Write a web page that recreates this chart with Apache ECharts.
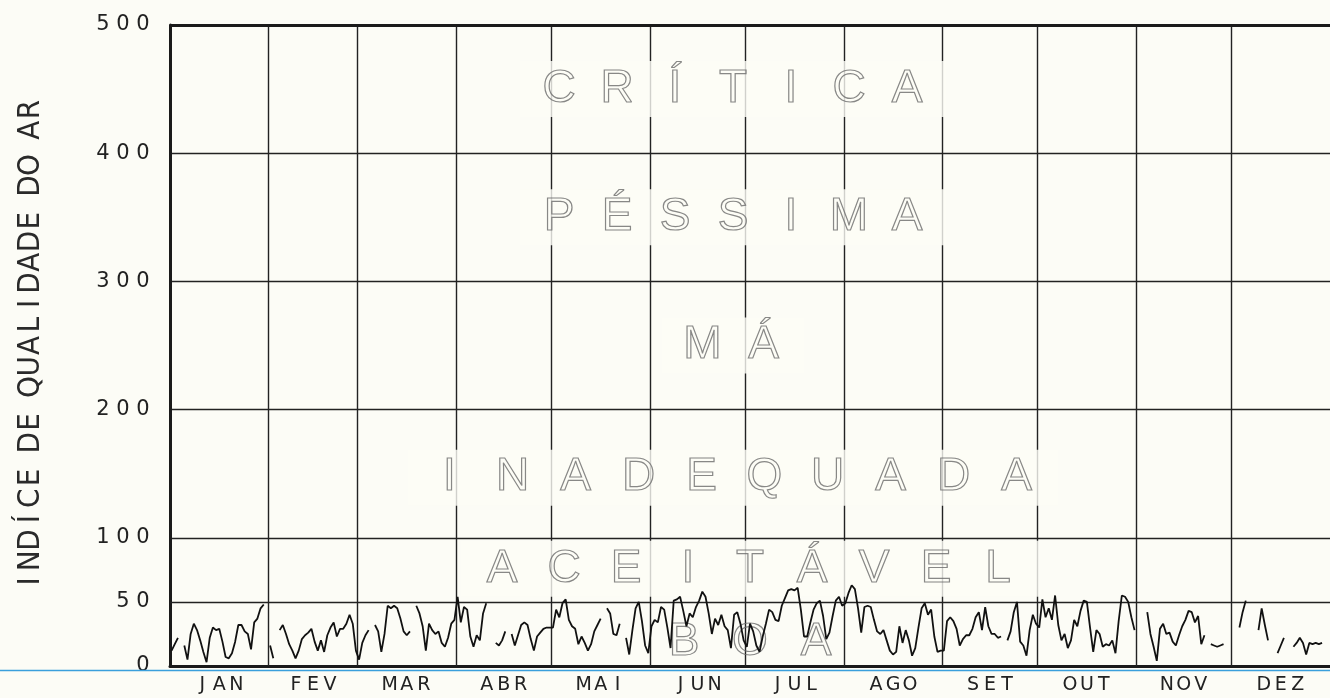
<!DOCTYPE html>
<html>
<head>
<meta charset="utf-8">
<script src="https://cdn.jsdelivr.net/npm/echarts@6/dist/echarts.min.js"></script>
<style>
html,body{margin:0;padding:0;background:#fcfcf6;}
#c{width:1330px;height:698px;}
</style>
</head>
<body>
<div id="c"></div>
<script>
// ---- data ----
const months = ['JAN','FEV','MAR','ABR','MAI','JUN','JUL','AGO','SET','OUT','NOV','DEZ'];
const daysInMonth = [31,28,31,30,31,30,31,31,30,31,30,31];
const yTicks = [0,50,100,200,300,400,500];
const yTitle = 'INDÍCE DE QUALIDADE DO AR';
const bandNames = ['CRÍTICA','PÉSSIMA','MÁ','INADEQUADA','ACEITÁVEL','BOA'];
const bandLow  = [400,300,200,100,50,0];
const bandHigh = [500,400,300,200,100,50];

// daily air quality index, one value per day (null = no measurement)
const aqiJan = [12,17,22,null,16,5,25,33,28,20,11,3,22,30,28,29,19,7,6,10,19,32,32,27,25,13,34,37,45,48,null];
const aqiFev = [16,6,null,28,32,25,17,12,6,12,21,24,26,29,19,12,20,11,24,30,34,23,29,29,33,40,33,12];
const aqiMar = [5,18,24,28,null,32,27,11,25,47,45,47,45,37,27,24,27,null,47,41,31,12,33,28,25,27,18,15,22,33,36];
const aqiAbr = [54,34,46,44,23,15,24,20,41,49,null,null,18,16,20,27,null,25,16,24,32,34,32,21,12,23,26,29,30,30];
const aqiMai = [30,44,38,49,52,36,31,29,17,23,18,12,17,27,32,37,null,45,41,25,24,33,null,22,9,28,45,50,35,16,10];
const aqiJun = [31,36,34,46,44,30,14,51,52,54,43,31,41,38,46,51,58,54,41,25,37,32,40,31,28,14,40,42,33,20];
const aqiJul = [15,33,27,16,11,23,33,44,42,36,35,47,53,59,60,59,61,44,23,23,34,44,49,51,39,21,26,39,51,54,47];
const aqiAgo = [49,57,63,60,45,26,46,47,46,36,27,25,28,20,12,9,11,31,18,28,20,8,14,30,45,49,40,44,23,11,12];
const aqiSet = [12,35,38,35,29,16,21,24,24,29,38,42,28,46,31,25,25,22,23,null,20,27,42,50,19,16,8,28,40,33];
const aqiOut = [30,52,38,45,36,55,32,20,25,14,20,36,31,43,51,50,30,11,28,25,15,17,16,20,10,35,55,54,50,38,28];
const aqiNov = [null,null,null,42,25,15,4,29,33,25,26,19,16,24,31,36,43,42,34,39,17,24,null,17,16,15,16,17,null,null];
const aqiDez = [24,null,30,42,51,null,null,null,28,45,32,20,null,null,10,16,22,null,null,15,18,22,18,9,18,17,18,17,18,null,null];
const monthlyAqi = [aqiJan,aqiFev,aqiMar,aqiAbr,aqiMai,aqiJun,aqiJul,aqiAgo,aqiSet,aqiOut,aqiNov,aqiDez];

// ---- derived ----
const monthStart = [];
let acc = 0;
daysInMonth.forEach(n => { monthStart.push(acc); acc += n; });
const yearDays = acc;
const monthMid = monthStart.map((s, i) => s + daysInMonth[i] / 2);
const points = [];
monthlyAqi.forEach((arr, m) => arr.forEach((v, d) => points.push([monthStart[m] + d + 0.5, v])));

// ---- styles ----
const ink = '#1a1a1a';
const paper = '#fcfcf6';
function spaced(word, style, spaceStyle) {
  return Array.from(word).map(ch => '{' + ((ch === ' ' && spaceStyle) ? spaceStyle : style) + '|' + ch + '}').join('');
}
const bandStyles = [
  {pitch: 58, offset: [-17, 0], bg: true},
  {pitch: 58, offset: [-17, 0], bg: true},
  {pitch: 61, offset: [-17, 0], bg: true},
  {pitch: 63, offset: [-17, 4], bg: true},
  {pitch: 62, offset: [0, -1], bg: true},
  {pitch: 66, offset: [0, 8], bg: false}
];
const bandRich = {};
bandStyles.forEach((s, i) => {
  bandRich['b' + i] = {
    width: s.pitch, align: 'center', fontSize: 46, fontFamily: "'Liberation Sans', Arial, sans-serif",
    color: 'rgba(0,0,0,0)', textBorderColor: '#6a6a6a', textBorderWidth: 1.2
  };
});
const bandData = bandNames.map((name, i) => ({
  name: name,
  value: [yearDays / 2, (bandLow[i] + bandHigh[i]) / 2],
  label: {
    offset: bandStyles[i].offset,
    backgroundColor: bandStyles[i].bg ? paper : 'transparent',
    padding: [5, 10]
  }
}));

const chart = echarts.init(document.getElementById('c'), null, {renderer: 'canvas'});
chart.setOption({
  animation: false,
  backgroundColor: paper,
  grid: {left: 170, right: -8, top: 25, bottom: 32, containLabel: false},
  xAxis: {
    type: 'value', min: 0, max: yearDays,
    axisLine: {show: true, onZero: false, lineStyle: {color: ink, width: 3}},
    axisTick: {show: false},
    splitLine: {show: false},
    axisLabel: {
      customValues: monthMid,
      margin: 10,
      formatter: v => {
        const i = monthMid.findIndex(m => Math.abs(m - v) < 0.01);
        return i < 0 ? '' : spaced(months[i], 'm');
      },
      rich: {m: {width: 17, align: 'center', fontSize: 19, fontFamily: "'DejaVu Sans', sans-serif", color: '#222'}}
    }
  },
  yAxis: {
    type: 'value', min: 0, max: 500, interval: 100,
    axisLine: {show: true, lineStyle: {color: ink, width: 3}},
    axisTick: {show: false},
    splitLine: {show: true, lineStyle: {color: '#222', width: 1.4}},
    axisLabel: {
      customValues: yTicks,
      margin: 17,
      formatter: v => spaced(String(v), 'd'),
      rich: {d: {width: 20, align: 'center', fontSize: 21, fontFamily: "'DejaVu Sans', sans-serif", color: '#222'}}
    },
    name: spaced(yTitle, 'n', 's'),
    nameLocation: 'middle',
    nameRotate: 90,
    nameGap: 124,
    nameTextStyle: {
      rich: {
        n: {width: 20.8, align: 'center', fontSize: 31, fontFamily: "'DejaVu Sans Condensed', 'Liberation Sans Narrow', 'DejaVu Sans', sans-serif", color: '#2a2a2a'},
        s: {width: 14, align: 'center', fontSize: 31, fontFamily: "'DejaVu Sans Condensed', 'DejaVu Sans', sans-serif", color: '#2a2a2a'}
      }
    }
  },
  series: [
    {
      type: 'line',
      name: 'IQA',
      data: points,
      showSymbol: false,
      connectNulls: false,
      z: 12,
      lineStyle: {color: '#111', width: 1.8},
      markLine: {
        silent: true, symbol: 'none', animation: false, z: 4,
        label: {show: false},
        lineStyle: {color: '#222', width: 1.4, type: 'solid'},
        data: monthStart.slice(1).map(s => ({xAxis: s}))
          .concat([{yAxis: 50}, {yAxis: 500, lineStyle: {width: 2.8, color: ink}}])
      }
    },
    {
      type: 'scatter',
      name: 'faixas',
      z: 10,
      symbolSize: 1,
      itemStyle: {color: 'rgba(0,0,0,0)'},
      silent: true,
      data: bandData,
      label: {
        show: true,
        position: 'inside',
        formatter: p => spaced(p.name, 'b' + p.dataIndex),
        rich: bandRich
      }
    }
  ]
});

// thin blue rule under the bottom axis (scanned-paper detail)
const y0 = chart.convertToPixel({gridIndex: 0}, [0, 0])[1];
chart.setOption({
  graphic: [{
    type: 'line', silent: true, z: 1,
    shape: {x1: 0, y1: y0 + 4.5, x2: chart.getWidth(), y2: y0 + 4.5},
    style: {stroke: '#3a9fdc', lineWidth: 1.6}
  }]
});
</script>
</body>
</html>
